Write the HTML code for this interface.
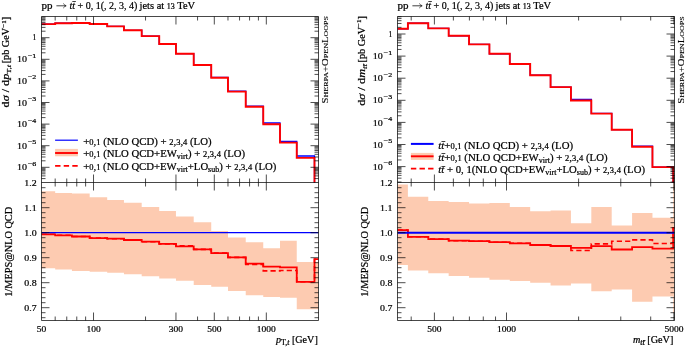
<!DOCTYPE html>
<html><head><meta charset="utf-8"><style>
html,body{margin:0;padding:0;background:#fff;width:685px;height:347px;overflow:hidden;font-family:"Liberation Serif",serif;}
svg{display:block;will-change:transform;}
</style></head><body>
<svg width="685" height="347" viewBox="0 0 685 347">
<rect width="685" height="347" fill="#fff"/>
<clipPath id="c139817756299040t"><rect x="41.5" y="16.5" width="277.0" height="166.0"/></clipPath>
<clipPath id="c139817756299040r"><rect x="41.5" y="182.5" width="277.0" height="138.0"/></clipPath>
<g clip-path="url(#c139817756299040r)">
<path d="M41.50,191.30 L41.50,191.30 L55.18,191.30 L55.18,193.00 L71.93,193.00 L71.93,193.50 L89.67,193.50 L89.67,197.30 L107.20,197.30 L107.20,200.00 L123.95,200.00 L123.95,202.80 L141.69,202.80 L141.69,206.90 L159.22,206.90 L159.22,211.00 L175.96,211.00 L175.96,216.50 L193.70,216.50 L193.70,222.20 L211.24,222.20 L211.24,231.10 L227.98,231.10 L227.98,237.50 L245.72,237.50 L245.72,242.30 L263.25,242.30 L263.25,248.30 L280.00,248.30 L280.00,240.80 L296.75,240.80 L296.75,262.00 L314.49,262.00 L314.49,262.00 L318.50,262.00 L318.50,309.20 L314.49,309.20 L314.49,309.20 L296.75,309.20 L296.75,297.80 L280.00,297.80 L280.00,296.90 L263.25,296.90 L263.25,295.20 L245.72,295.20 L245.72,291.00 L227.98,291.00 L227.98,286.80 L211.24,286.80 L211.24,285.10 L193.70,285.10 L193.70,280.80 L175.96,280.80 L175.96,278.60 L159.22,278.60 L159.22,276.30 L141.69,276.30 L141.69,274.20 L123.95,274.20 L123.95,272.80 L107.20,272.80 L107.20,271.70 L89.67,271.70 L89.67,270.90 L71.93,270.90 L71.93,269.40 L55.18,269.40 L55.18,268.30 L41.50,268.30 Z" fill="#fdcbb1" stroke="none"/>
<path d="M41.50,234.30 L41.50,234.30 L55.18,234.30 L55.18,235.30 L71.93,235.30 L71.93,236.50 L89.67,236.50 L89.67,238.10 L107.20,238.10 L107.20,238.70 L123.95,238.70 L123.95,240.00 L141.69,240.00 L141.69,241.70 L159.22,241.70 L159.22,243.90 L175.96,243.90 L175.96,245.70 L193.70,245.70 L193.70,249.40 L211.24,249.40 L211.24,253.10 L227.98,253.10 L227.98,257.40 L245.72,257.40 L245.72,264.40 L263.25,264.40 L263.25,270.90 L280.00,270.90 L280.00,270.50 L296.75,270.50 L296.75,281.80 L314.49,281.80 L314.49,259.20 L318.50,259.20" fill="none" stroke="#ff0000" stroke-width="1.6" stroke-dasharray="5.2,3.1"/>
<path d="M41.50,234.30 L41.50,234.30 L55.18,234.30 L55.18,235.30 L71.93,235.30 L71.93,236.50 L89.67,236.50 L89.67,238.10 L107.20,238.10 L107.20,238.70 L123.95,238.70 L123.95,240.00 L141.69,240.00 L141.69,241.70 L159.22,241.70 L159.22,243.90 L175.96,243.90 L175.96,246.30 L193.70,246.30 L193.70,249.40 L211.24,249.40 L211.24,253.10 L227.98,253.10 L227.98,257.40 L245.72,257.40 L245.72,263.70 L263.25,263.70 L263.25,266.60 L280.00,266.60 L280.00,267.40 L296.75,267.40 L296.75,281.80 L314.49,281.80 L314.49,259.20 L318.50,259.20" fill="none" stroke="#ff0000" stroke-width="1.8"/>
<line x1="41.5" y1="232.70" x2="318.5" y2="232.70" stroke="#0000ff" stroke-width="1.2"/>
</g>
<g clip-path="url(#c139817756299040t)">
<path d="M41.50,24.10 L41.50,24.10 L55.18,24.10 L55.18,23.20 L71.93,23.20 L71.93,23.00 L89.67,23.00 L89.67,24.00 L107.20,24.00 L107.20,26.40 L123.95,26.40 L123.95,30.30 L141.69,30.30 L141.69,36.10 L159.22,36.10 L159.22,44.00 L175.96,44.00 L175.96,53.70 L193.70,53.70 L193.70,65.00 L211.24,65.00 L211.24,77.40 L227.98,77.40 L227.98,91.20 L245.72,91.20 L245.72,106.20 L263.25,106.20 L263.25,123.00 L280.00,123.00 L280.00,141.40 L296.75,141.40 L296.75,156.00 L314.49,156.00 L314.49,186.00 L318.50,186.00 L318.50,184.50" fill="none" stroke="#0000ff" stroke-width="1.3"/>
<path d="M41.50,24.10 L41.50,24.10 L55.18,24.10 L55.18,23.20 L71.93,23.20 L71.93,23.00 L89.67,23.00 L89.67,24.00 L107.20,24.00 L107.20,26.40 L123.95,26.40 L123.95,30.30 L141.69,30.30 L141.69,36.10 L159.22,36.10 L159.22,44.00 L175.96,44.00 L175.96,53.70 L193.70,53.70 L193.70,65.00 L211.24,65.00 L211.24,77.80 L227.98,77.80 L227.98,91.60 L245.72,91.60 L245.72,106.70 L263.25,106.70 L263.25,124.30 L280.00,124.30 L280.00,142.60 L296.75,142.60 L296.75,157.90 L314.49,157.90 L314.49,186.00 L318.50,186.00 L318.50,184.50" fill="none" stroke="#ff0000" stroke-width="1.9"/>
</g>
<path d="M41.5,16.5 L318.5,16.5 L318.5,320.5 L41.5,320.5 Z M41.5,182.5 L318.5,182.5" fill="none" stroke="#000" stroke-width="0.72"/>
<line x1="93.52" y1="16.50" x2="93.52" y2="24.50" stroke="#000" stroke-width="0.7"/>
<line x1="93.52" y1="182.50" x2="93.52" y2="174.50" stroke="#000" stroke-width="0.7"/>
<line x1="93.52" y1="182.50" x2="93.52" y2="190.50" stroke="#000" stroke-width="0.7"/>
<line x1="93.52" y1="320.50" x2="93.52" y2="312.50" stroke="#000" stroke-width="0.7"/>
<line x1="175.96" y1="16.50" x2="175.96" y2="24.50" stroke="#000" stroke-width="0.7"/>
<line x1="175.96" y1="182.50" x2="175.96" y2="174.50" stroke="#000" stroke-width="0.7"/>
<line x1="175.96" y1="182.50" x2="175.96" y2="190.50" stroke="#000" stroke-width="0.7"/>
<line x1="175.96" y1="320.50" x2="175.96" y2="312.50" stroke="#000" stroke-width="0.7"/>
<line x1="214.30" y1="16.50" x2="214.30" y2="24.50" stroke="#000" stroke-width="0.7"/>
<line x1="214.30" y1="182.50" x2="214.30" y2="174.50" stroke="#000" stroke-width="0.7"/>
<line x1="214.30" y1="182.50" x2="214.30" y2="190.50" stroke="#000" stroke-width="0.7"/>
<line x1="214.30" y1="320.50" x2="214.30" y2="312.50" stroke="#000" stroke-width="0.7"/>
<line x1="266.32" y1="16.50" x2="266.32" y2="24.50" stroke="#000" stroke-width="0.7"/>
<line x1="266.32" y1="182.50" x2="266.32" y2="174.50" stroke="#000" stroke-width="0.7"/>
<line x1="266.32" y1="182.50" x2="266.32" y2="190.50" stroke="#000" stroke-width="0.7"/>
<line x1="266.32" y1="320.50" x2="266.32" y2="312.50" stroke="#000" stroke-width="0.7"/>
<line x1="55.18" y1="16.50" x2="55.18" y2="20.50" stroke="#000" stroke-width="0.7"/>
<line x1="55.18" y1="182.50" x2="55.18" y2="178.50" stroke="#000" stroke-width="0.7"/>
<line x1="55.18" y1="182.50" x2="55.18" y2="186.50" stroke="#000" stroke-width="0.7"/>
<line x1="55.18" y1="320.50" x2="55.18" y2="316.50" stroke="#000" stroke-width="0.7"/>
<line x1="66.75" y1="16.50" x2="66.75" y2="20.50" stroke="#000" stroke-width="0.7"/>
<line x1="66.75" y1="182.50" x2="66.75" y2="178.50" stroke="#000" stroke-width="0.7"/>
<line x1="66.75" y1="182.50" x2="66.75" y2="186.50" stroke="#000" stroke-width="0.7"/>
<line x1="66.75" y1="320.50" x2="66.75" y2="316.50" stroke="#000" stroke-width="0.7"/>
<line x1="76.77" y1="16.50" x2="76.77" y2="20.50" stroke="#000" stroke-width="0.7"/>
<line x1="76.77" y1="182.50" x2="76.77" y2="178.50" stroke="#000" stroke-width="0.7"/>
<line x1="76.77" y1="182.50" x2="76.77" y2="186.50" stroke="#000" stroke-width="0.7"/>
<line x1="76.77" y1="320.50" x2="76.77" y2="316.50" stroke="#000" stroke-width="0.7"/>
<line x1="85.61" y1="16.50" x2="85.61" y2="20.50" stroke="#000" stroke-width="0.7"/>
<line x1="85.61" y1="182.50" x2="85.61" y2="178.50" stroke="#000" stroke-width="0.7"/>
<line x1="85.61" y1="182.50" x2="85.61" y2="186.50" stroke="#000" stroke-width="0.7"/>
<line x1="85.61" y1="320.50" x2="85.61" y2="316.50" stroke="#000" stroke-width="0.7"/>
<line x1="145.54" y1="16.50" x2="145.54" y2="20.50" stroke="#000" stroke-width="0.7"/>
<line x1="145.54" y1="182.50" x2="145.54" y2="178.50" stroke="#000" stroke-width="0.7"/>
<line x1="145.54" y1="182.50" x2="145.54" y2="186.50" stroke="#000" stroke-width="0.7"/>
<line x1="145.54" y1="320.50" x2="145.54" y2="316.50" stroke="#000" stroke-width="0.7"/>
<line x1="197.55" y1="16.50" x2="197.55" y2="20.50" stroke="#000" stroke-width="0.7"/>
<line x1="197.55" y1="182.50" x2="197.55" y2="178.50" stroke="#000" stroke-width="0.7"/>
<line x1="197.55" y1="182.50" x2="197.55" y2="186.50" stroke="#000" stroke-width="0.7"/>
<line x1="197.55" y1="320.50" x2="197.55" y2="316.50" stroke="#000" stroke-width="0.7"/>
<line x1="227.98" y1="16.50" x2="227.98" y2="20.50" stroke="#000" stroke-width="0.7"/>
<line x1="227.98" y1="182.50" x2="227.98" y2="178.50" stroke="#000" stroke-width="0.7"/>
<line x1="227.98" y1="182.50" x2="227.98" y2="186.50" stroke="#000" stroke-width="0.7"/>
<line x1="227.98" y1="320.50" x2="227.98" y2="316.50" stroke="#000" stroke-width="0.7"/>
<line x1="239.55" y1="16.50" x2="239.55" y2="20.50" stroke="#000" stroke-width="0.7"/>
<line x1="239.55" y1="182.50" x2="239.55" y2="178.50" stroke="#000" stroke-width="0.7"/>
<line x1="239.55" y1="182.50" x2="239.55" y2="186.50" stroke="#000" stroke-width="0.7"/>
<line x1="239.55" y1="320.50" x2="239.55" y2="316.50" stroke="#000" stroke-width="0.7"/>
<line x1="249.57" y1="16.50" x2="249.57" y2="20.50" stroke="#000" stroke-width="0.7"/>
<line x1="249.57" y1="182.50" x2="249.57" y2="178.50" stroke="#000" stroke-width="0.7"/>
<line x1="249.57" y1="182.50" x2="249.57" y2="186.50" stroke="#000" stroke-width="0.7"/>
<line x1="249.57" y1="320.50" x2="249.57" y2="316.50" stroke="#000" stroke-width="0.7"/>
<line x1="258.41" y1="16.50" x2="258.41" y2="20.50" stroke="#000" stroke-width="0.7"/>
<line x1="258.41" y1="182.50" x2="258.41" y2="178.50" stroke="#000" stroke-width="0.7"/>
<line x1="258.41" y1="182.50" x2="258.41" y2="186.50" stroke="#000" stroke-width="0.7"/>
<line x1="258.41" y1="320.50" x2="258.41" y2="316.50" stroke="#000" stroke-width="0.7"/>
<line x1="41.50" y1="178.59" x2="45.50" y2="178.59" stroke="#000" stroke-width="0.7"/>
<line x1="318.50" y1="178.59" x2="314.50" y2="178.59" stroke="#000" stroke-width="0.7"/>
<line x1="41.50" y1="175.90" x2="45.50" y2="175.90" stroke="#000" stroke-width="0.7"/>
<line x1="318.50" y1="175.90" x2="314.50" y2="175.90" stroke="#000" stroke-width="0.7"/>
<line x1="41.50" y1="173.80" x2="45.50" y2="173.80" stroke="#000" stroke-width="0.7"/>
<line x1="318.50" y1="173.80" x2="314.50" y2="173.80" stroke="#000" stroke-width="0.7"/>
<line x1="41.50" y1="172.09" x2="45.50" y2="172.09" stroke="#000" stroke-width="0.7"/>
<line x1="318.50" y1="172.09" x2="314.50" y2="172.09" stroke="#000" stroke-width="0.7"/>
<line x1="41.50" y1="170.65" x2="45.50" y2="170.65" stroke="#000" stroke-width="0.7"/>
<line x1="318.50" y1="170.65" x2="314.50" y2="170.65" stroke="#000" stroke-width="0.7"/>
<line x1="41.50" y1="169.39" x2="45.50" y2="169.39" stroke="#000" stroke-width="0.7"/>
<line x1="318.50" y1="169.39" x2="314.50" y2="169.39" stroke="#000" stroke-width="0.7"/>
<line x1="41.50" y1="168.29" x2="45.50" y2="168.29" stroke="#000" stroke-width="0.7"/>
<line x1="318.50" y1="168.29" x2="314.50" y2="168.29" stroke="#000" stroke-width="0.7"/>
<line x1="41.50" y1="167.30" x2="49.50" y2="167.30" stroke="#000" stroke-width="0.7"/>
<line x1="318.50" y1="167.30" x2="310.50" y2="167.30" stroke="#000" stroke-width="0.7"/>
<line x1="41.50" y1="160.80" x2="45.50" y2="160.80" stroke="#000" stroke-width="0.7"/>
<line x1="318.50" y1="160.80" x2="314.50" y2="160.80" stroke="#000" stroke-width="0.7"/>
<line x1="41.50" y1="156.99" x2="45.50" y2="156.99" stroke="#000" stroke-width="0.7"/>
<line x1="318.50" y1="156.99" x2="314.50" y2="156.99" stroke="#000" stroke-width="0.7"/>
<line x1="41.50" y1="154.30" x2="45.50" y2="154.30" stroke="#000" stroke-width="0.7"/>
<line x1="318.50" y1="154.30" x2="314.50" y2="154.30" stroke="#000" stroke-width="0.7"/>
<line x1="41.50" y1="152.20" x2="45.50" y2="152.20" stroke="#000" stroke-width="0.7"/>
<line x1="318.50" y1="152.20" x2="314.50" y2="152.20" stroke="#000" stroke-width="0.7"/>
<line x1="41.50" y1="150.49" x2="45.50" y2="150.49" stroke="#000" stroke-width="0.7"/>
<line x1="318.50" y1="150.49" x2="314.50" y2="150.49" stroke="#000" stroke-width="0.7"/>
<line x1="41.50" y1="149.05" x2="45.50" y2="149.05" stroke="#000" stroke-width="0.7"/>
<line x1="318.50" y1="149.05" x2="314.50" y2="149.05" stroke="#000" stroke-width="0.7"/>
<line x1="41.50" y1="147.79" x2="45.50" y2="147.79" stroke="#000" stroke-width="0.7"/>
<line x1="318.50" y1="147.79" x2="314.50" y2="147.79" stroke="#000" stroke-width="0.7"/>
<line x1="41.50" y1="146.69" x2="45.50" y2="146.69" stroke="#000" stroke-width="0.7"/>
<line x1="318.50" y1="146.69" x2="314.50" y2="146.69" stroke="#000" stroke-width="0.7"/>
<line x1="41.50" y1="145.70" x2="49.50" y2="145.70" stroke="#000" stroke-width="0.7"/>
<line x1="318.50" y1="145.70" x2="310.50" y2="145.70" stroke="#000" stroke-width="0.7"/>
<line x1="41.50" y1="139.20" x2="45.50" y2="139.20" stroke="#000" stroke-width="0.7"/>
<line x1="318.50" y1="139.20" x2="314.50" y2="139.20" stroke="#000" stroke-width="0.7"/>
<line x1="41.50" y1="135.39" x2="45.50" y2="135.39" stroke="#000" stroke-width="0.7"/>
<line x1="318.50" y1="135.39" x2="314.50" y2="135.39" stroke="#000" stroke-width="0.7"/>
<line x1="41.50" y1="132.70" x2="45.50" y2="132.70" stroke="#000" stroke-width="0.7"/>
<line x1="318.50" y1="132.70" x2="314.50" y2="132.70" stroke="#000" stroke-width="0.7"/>
<line x1="41.50" y1="130.60" x2="45.50" y2="130.60" stroke="#000" stroke-width="0.7"/>
<line x1="318.50" y1="130.60" x2="314.50" y2="130.60" stroke="#000" stroke-width="0.7"/>
<line x1="41.50" y1="128.89" x2="45.50" y2="128.89" stroke="#000" stroke-width="0.7"/>
<line x1="318.50" y1="128.89" x2="314.50" y2="128.89" stroke="#000" stroke-width="0.7"/>
<line x1="41.50" y1="127.45" x2="45.50" y2="127.45" stroke="#000" stroke-width="0.7"/>
<line x1="318.50" y1="127.45" x2="314.50" y2="127.45" stroke="#000" stroke-width="0.7"/>
<line x1="41.50" y1="126.19" x2="45.50" y2="126.19" stroke="#000" stroke-width="0.7"/>
<line x1="318.50" y1="126.19" x2="314.50" y2="126.19" stroke="#000" stroke-width="0.7"/>
<line x1="41.50" y1="125.09" x2="45.50" y2="125.09" stroke="#000" stroke-width="0.7"/>
<line x1="318.50" y1="125.09" x2="314.50" y2="125.09" stroke="#000" stroke-width="0.7"/>
<line x1="41.50" y1="124.10" x2="49.50" y2="124.10" stroke="#000" stroke-width="0.7"/>
<line x1="318.50" y1="124.10" x2="310.50" y2="124.10" stroke="#000" stroke-width="0.7"/>
<line x1="41.50" y1="117.60" x2="45.50" y2="117.60" stroke="#000" stroke-width="0.7"/>
<line x1="318.50" y1="117.60" x2="314.50" y2="117.60" stroke="#000" stroke-width="0.7"/>
<line x1="41.50" y1="113.79" x2="45.50" y2="113.79" stroke="#000" stroke-width="0.7"/>
<line x1="318.50" y1="113.79" x2="314.50" y2="113.79" stroke="#000" stroke-width="0.7"/>
<line x1="41.50" y1="111.10" x2="45.50" y2="111.10" stroke="#000" stroke-width="0.7"/>
<line x1="318.50" y1="111.10" x2="314.50" y2="111.10" stroke="#000" stroke-width="0.7"/>
<line x1="41.50" y1="109.00" x2="45.50" y2="109.00" stroke="#000" stroke-width="0.7"/>
<line x1="318.50" y1="109.00" x2="314.50" y2="109.00" stroke="#000" stroke-width="0.7"/>
<line x1="41.50" y1="107.29" x2="45.50" y2="107.29" stroke="#000" stroke-width="0.7"/>
<line x1="318.50" y1="107.29" x2="314.50" y2="107.29" stroke="#000" stroke-width="0.7"/>
<line x1="41.50" y1="105.85" x2="45.50" y2="105.85" stroke="#000" stroke-width="0.7"/>
<line x1="318.50" y1="105.85" x2="314.50" y2="105.85" stroke="#000" stroke-width="0.7"/>
<line x1="41.50" y1="104.59" x2="45.50" y2="104.59" stroke="#000" stroke-width="0.7"/>
<line x1="318.50" y1="104.59" x2="314.50" y2="104.59" stroke="#000" stroke-width="0.7"/>
<line x1="41.50" y1="103.49" x2="45.50" y2="103.49" stroke="#000" stroke-width="0.7"/>
<line x1="318.50" y1="103.49" x2="314.50" y2="103.49" stroke="#000" stroke-width="0.7"/>
<line x1="41.50" y1="102.50" x2="49.50" y2="102.50" stroke="#000" stroke-width="0.7"/>
<line x1="318.50" y1="102.50" x2="310.50" y2="102.50" stroke="#000" stroke-width="0.7"/>
<line x1="41.50" y1="96.00" x2="45.50" y2="96.00" stroke="#000" stroke-width="0.7"/>
<line x1="318.50" y1="96.00" x2="314.50" y2="96.00" stroke="#000" stroke-width="0.7"/>
<line x1="41.50" y1="92.19" x2="45.50" y2="92.19" stroke="#000" stroke-width="0.7"/>
<line x1="318.50" y1="92.19" x2="314.50" y2="92.19" stroke="#000" stroke-width="0.7"/>
<line x1="41.50" y1="89.50" x2="45.50" y2="89.50" stroke="#000" stroke-width="0.7"/>
<line x1="318.50" y1="89.50" x2="314.50" y2="89.50" stroke="#000" stroke-width="0.7"/>
<line x1="41.50" y1="87.40" x2="45.50" y2="87.40" stroke="#000" stroke-width="0.7"/>
<line x1="318.50" y1="87.40" x2="314.50" y2="87.40" stroke="#000" stroke-width="0.7"/>
<line x1="41.50" y1="85.69" x2="45.50" y2="85.69" stroke="#000" stroke-width="0.7"/>
<line x1="318.50" y1="85.69" x2="314.50" y2="85.69" stroke="#000" stroke-width="0.7"/>
<line x1="41.50" y1="84.25" x2="45.50" y2="84.25" stroke="#000" stroke-width="0.7"/>
<line x1="318.50" y1="84.25" x2="314.50" y2="84.25" stroke="#000" stroke-width="0.7"/>
<line x1="41.50" y1="82.99" x2="45.50" y2="82.99" stroke="#000" stroke-width="0.7"/>
<line x1="318.50" y1="82.99" x2="314.50" y2="82.99" stroke="#000" stroke-width="0.7"/>
<line x1="41.50" y1="81.89" x2="45.50" y2="81.89" stroke="#000" stroke-width="0.7"/>
<line x1="318.50" y1="81.89" x2="314.50" y2="81.89" stroke="#000" stroke-width="0.7"/>
<line x1="41.50" y1="80.90" x2="49.50" y2="80.90" stroke="#000" stroke-width="0.7"/>
<line x1="318.50" y1="80.90" x2="310.50" y2="80.90" stroke="#000" stroke-width="0.7"/>
<line x1="41.50" y1="74.40" x2="45.50" y2="74.40" stroke="#000" stroke-width="0.7"/>
<line x1="318.50" y1="74.40" x2="314.50" y2="74.40" stroke="#000" stroke-width="0.7"/>
<line x1="41.50" y1="70.59" x2="45.50" y2="70.59" stroke="#000" stroke-width="0.7"/>
<line x1="318.50" y1="70.59" x2="314.50" y2="70.59" stroke="#000" stroke-width="0.7"/>
<line x1="41.50" y1="67.90" x2="45.50" y2="67.90" stroke="#000" stroke-width="0.7"/>
<line x1="318.50" y1="67.90" x2="314.50" y2="67.90" stroke="#000" stroke-width="0.7"/>
<line x1="41.50" y1="65.80" x2="45.50" y2="65.80" stroke="#000" stroke-width="0.7"/>
<line x1="318.50" y1="65.80" x2="314.50" y2="65.80" stroke="#000" stroke-width="0.7"/>
<line x1="41.50" y1="64.09" x2="45.50" y2="64.09" stroke="#000" stroke-width="0.7"/>
<line x1="318.50" y1="64.09" x2="314.50" y2="64.09" stroke="#000" stroke-width="0.7"/>
<line x1="41.50" y1="62.65" x2="45.50" y2="62.65" stroke="#000" stroke-width="0.7"/>
<line x1="318.50" y1="62.65" x2="314.50" y2="62.65" stroke="#000" stroke-width="0.7"/>
<line x1="41.50" y1="61.39" x2="45.50" y2="61.39" stroke="#000" stroke-width="0.7"/>
<line x1="318.50" y1="61.39" x2="314.50" y2="61.39" stroke="#000" stroke-width="0.7"/>
<line x1="41.50" y1="60.29" x2="45.50" y2="60.29" stroke="#000" stroke-width="0.7"/>
<line x1="318.50" y1="60.29" x2="314.50" y2="60.29" stroke="#000" stroke-width="0.7"/>
<line x1="41.50" y1="59.30" x2="49.50" y2="59.30" stroke="#000" stroke-width="0.7"/>
<line x1="318.50" y1="59.30" x2="310.50" y2="59.30" stroke="#000" stroke-width="0.7"/>
<line x1="41.50" y1="52.80" x2="45.50" y2="52.80" stroke="#000" stroke-width="0.7"/>
<line x1="318.50" y1="52.80" x2="314.50" y2="52.80" stroke="#000" stroke-width="0.7"/>
<line x1="41.50" y1="48.99" x2="45.50" y2="48.99" stroke="#000" stroke-width="0.7"/>
<line x1="318.50" y1="48.99" x2="314.50" y2="48.99" stroke="#000" stroke-width="0.7"/>
<line x1="41.50" y1="46.30" x2="45.50" y2="46.30" stroke="#000" stroke-width="0.7"/>
<line x1="318.50" y1="46.30" x2="314.50" y2="46.30" stroke="#000" stroke-width="0.7"/>
<line x1="41.50" y1="44.20" x2="45.50" y2="44.20" stroke="#000" stroke-width="0.7"/>
<line x1="318.50" y1="44.20" x2="314.50" y2="44.20" stroke="#000" stroke-width="0.7"/>
<line x1="41.50" y1="42.49" x2="45.50" y2="42.49" stroke="#000" stroke-width="0.7"/>
<line x1="318.50" y1="42.49" x2="314.50" y2="42.49" stroke="#000" stroke-width="0.7"/>
<line x1="41.50" y1="41.05" x2="45.50" y2="41.05" stroke="#000" stroke-width="0.7"/>
<line x1="318.50" y1="41.05" x2="314.50" y2="41.05" stroke="#000" stroke-width="0.7"/>
<line x1="41.50" y1="39.79" x2="45.50" y2="39.79" stroke="#000" stroke-width="0.7"/>
<line x1="318.50" y1="39.79" x2="314.50" y2="39.79" stroke="#000" stroke-width="0.7"/>
<line x1="41.50" y1="38.69" x2="45.50" y2="38.69" stroke="#000" stroke-width="0.7"/>
<line x1="318.50" y1="38.69" x2="314.50" y2="38.69" stroke="#000" stroke-width="0.7"/>
<line x1="41.50" y1="37.70" x2="49.50" y2="37.70" stroke="#000" stroke-width="0.7"/>
<line x1="318.50" y1="37.70" x2="310.50" y2="37.70" stroke="#000" stroke-width="0.7"/>
<line x1="41.50" y1="31.20" x2="45.50" y2="31.20" stroke="#000" stroke-width="0.7"/>
<line x1="318.50" y1="31.20" x2="314.50" y2="31.20" stroke="#000" stroke-width="0.7"/>
<line x1="41.50" y1="27.39" x2="45.50" y2="27.39" stroke="#000" stroke-width="0.7"/>
<line x1="318.50" y1="27.39" x2="314.50" y2="27.39" stroke="#000" stroke-width="0.7"/>
<line x1="41.50" y1="24.70" x2="45.50" y2="24.70" stroke="#000" stroke-width="0.7"/>
<line x1="318.50" y1="24.70" x2="314.50" y2="24.70" stroke="#000" stroke-width="0.7"/>
<line x1="41.50" y1="22.60" x2="45.50" y2="22.60" stroke="#000" stroke-width="0.7"/>
<line x1="318.50" y1="22.60" x2="314.50" y2="22.60" stroke="#000" stroke-width="0.7"/>
<line x1="41.50" y1="20.89" x2="45.50" y2="20.89" stroke="#000" stroke-width="0.7"/>
<line x1="318.50" y1="20.89" x2="314.50" y2="20.89" stroke="#000" stroke-width="0.7"/>
<line x1="41.50" y1="19.45" x2="45.50" y2="19.45" stroke="#000" stroke-width="0.7"/>
<line x1="318.50" y1="19.45" x2="314.50" y2="19.45" stroke="#000" stroke-width="0.7"/>
<line x1="41.50" y1="18.19" x2="45.50" y2="18.19" stroke="#000" stroke-width="0.7"/>
<line x1="318.50" y1="18.19" x2="314.50" y2="18.19" stroke="#000" stroke-width="0.7"/>
<line x1="41.50" y1="17.09" x2="45.50" y2="17.09" stroke="#000" stroke-width="0.7"/>
<line x1="318.50" y1="17.09" x2="314.50" y2="17.09" stroke="#000" stroke-width="0.7"/>
<line x1="41.50" y1="317.70" x2="45.50" y2="317.70" stroke="#000" stroke-width="0.7"/>
<line x1="318.50" y1="317.70" x2="314.50" y2="317.70" stroke="#000" stroke-width="0.7"/>
<line x1="41.50" y1="312.70" x2="45.50" y2="312.70" stroke="#000" stroke-width="0.7"/>
<line x1="318.50" y1="312.70" x2="314.50" y2="312.70" stroke="#000" stroke-width="0.7"/>
<line x1="41.50" y1="307.70" x2="49.50" y2="307.70" stroke="#000" stroke-width="0.7"/>
<line x1="318.50" y1="307.70" x2="310.50" y2="307.70" stroke="#000" stroke-width="0.7"/>
<line x1="41.50" y1="302.70" x2="45.50" y2="302.70" stroke="#000" stroke-width="0.7"/>
<line x1="318.50" y1="302.70" x2="314.50" y2="302.70" stroke="#000" stroke-width="0.7"/>
<line x1="41.50" y1="297.70" x2="45.50" y2="297.70" stroke="#000" stroke-width="0.7"/>
<line x1="318.50" y1="297.70" x2="314.50" y2="297.70" stroke="#000" stroke-width="0.7"/>
<line x1="41.50" y1="292.70" x2="45.50" y2="292.70" stroke="#000" stroke-width="0.7"/>
<line x1="318.50" y1="292.70" x2="314.50" y2="292.70" stroke="#000" stroke-width="0.7"/>
<line x1="41.50" y1="287.70" x2="45.50" y2="287.70" stroke="#000" stroke-width="0.7"/>
<line x1="318.50" y1="287.70" x2="314.50" y2="287.70" stroke="#000" stroke-width="0.7"/>
<line x1="41.50" y1="282.70" x2="49.50" y2="282.70" stroke="#000" stroke-width="0.7"/>
<line x1="318.50" y1="282.70" x2="310.50" y2="282.70" stroke="#000" stroke-width="0.7"/>
<line x1="41.50" y1="277.70" x2="45.50" y2="277.70" stroke="#000" stroke-width="0.7"/>
<line x1="318.50" y1="277.70" x2="314.50" y2="277.70" stroke="#000" stroke-width="0.7"/>
<line x1="41.50" y1="272.70" x2="45.50" y2="272.70" stroke="#000" stroke-width="0.7"/>
<line x1="318.50" y1="272.70" x2="314.50" y2="272.70" stroke="#000" stroke-width="0.7"/>
<line x1="41.50" y1="267.70" x2="45.50" y2="267.70" stroke="#000" stroke-width="0.7"/>
<line x1="318.50" y1="267.70" x2="314.50" y2="267.70" stroke="#000" stroke-width="0.7"/>
<line x1="41.50" y1="262.70" x2="45.50" y2="262.70" stroke="#000" stroke-width="0.7"/>
<line x1="318.50" y1="262.70" x2="314.50" y2="262.70" stroke="#000" stroke-width="0.7"/>
<line x1="41.50" y1="257.70" x2="49.50" y2="257.70" stroke="#000" stroke-width="0.7"/>
<line x1="318.50" y1="257.70" x2="310.50" y2="257.70" stroke="#000" stroke-width="0.7"/>
<line x1="41.50" y1="252.70" x2="45.50" y2="252.70" stroke="#000" stroke-width="0.7"/>
<line x1="318.50" y1="252.70" x2="314.50" y2="252.70" stroke="#000" stroke-width="0.7"/>
<line x1="41.50" y1="247.70" x2="45.50" y2="247.70" stroke="#000" stroke-width="0.7"/>
<line x1="318.50" y1="247.70" x2="314.50" y2="247.70" stroke="#000" stroke-width="0.7"/>
<line x1="41.50" y1="242.70" x2="45.50" y2="242.70" stroke="#000" stroke-width="0.7"/>
<line x1="318.50" y1="242.70" x2="314.50" y2="242.70" stroke="#000" stroke-width="0.7"/>
<line x1="41.50" y1="237.70" x2="45.50" y2="237.70" stroke="#000" stroke-width="0.7"/>
<line x1="318.50" y1="237.70" x2="314.50" y2="237.70" stroke="#000" stroke-width="0.7"/>
<line x1="41.50" y1="232.70" x2="49.50" y2="232.70" stroke="#000" stroke-width="0.7"/>
<line x1="318.50" y1="232.70" x2="310.50" y2="232.70" stroke="#000" stroke-width="0.7"/>
<line x1="41.50" y1="227.70" x2="45.50" y2="227.70" stroke="#000" stroke-width="0.7"/>
<line x1="318.50" y1="227.70" x2="314.50" y2="227.70" stroke="#000" stroke-width="0.7"/>
<line x1="41.50" y1="222.70" x2="45.50" y2="222.70" stroke="#000" stroke-width="0.7"/>
<line x1="318.50" y1="222.70" x2="314.50" y2="222.70" stroke="#000" stroke-width="0.7"/>
<line x1="41.50" y1="217.70" x2="45.50" y2="217.70" stroke="#000" stroke-width="0.7"/>
<line x1="318.50" y1="217.70" x2="314.50" y2="217.70" stroke="#000" stroke-width="0.7"/>
<line x1="41.50" y1="212.70" x2="45.50" y2="212.70" stroke="#000" stroke-width="0.7"/>
<line x1="318.50" y1="212.70" x2="314.50" y2="212.70" stroke="#000" stroke-width="0.7"/>
<line x1="41.50" y1="207.70" x2="49.50" y2="207.70" stroke="#000" stroke-width="0.7"/>
<line x1="318.50" y1="207.70" x2="310.50" y2="207.70" stroke="#000" stroke-width="0.7"/>
<line x1="41.50" y1="202.70" x2="45.50" y2="202.70" stroke="#000" stroke-width="0.7"/>
<line x1="318.50" y1="202.70" x2="314.50" y2="202.70" stroke="#000" stroke-width="0.7"/>
<line x1="41.50" y1="197.70" x2="45.50" y2="197.70" stroke="#000" stroke-width="0.7"/>
<line x1="318.50" y1="197.70" x2="314.50" y2="197.70" stroke="#000" stroke-width="0.7"/>
<line x1="41.50" y1="192.70" x2="45.50" y2="192.70" stroke="#000" stroke-width="0.7"/>
<line x1="318.50" y1="192.70" x2="314.50" y2="192.70" stroke="#000" stroke-width="0.7"/>
<line x1="41.50" y1="187.70" x2="45.50" y2="187.70" stroke="#000" stroke-width="0.7"/>
<line x1="318.50" y1="187.70" x2="314.50" y2="187.70" stroke="#000" stroke-width="0.7"/>
<clipPath id="c139817756298752t"><rect x="397.5" y="16.5" width="277.0" height="166.0"/></clipPath>
<clipPath id="c139817756298752r"><rect x="397.5" y="182.5" width="277.0" height="138.0"/></clipPath>
<g clip-path="url(#c139817756298752r)">
<path d="M397.50,184.50 L397.50,184.50 L407.90,184.50 L407.90,196.80 L428.28,196.80 L428.28,201.10 L448.66,201.10 L448.66,202.10 L469.04,202.10 L469.04,203.60 L489.42,203.60 L489.42,203.00 L509.80,203.00 L509.80,207.00 L530.18,207.00 L530.18,211.20 L550.56,211.20 L550.56,210.60 L570.94,210.60 L570.94,223.30 L591.32,223.30 L591.32,207.00 L611.70,207.00 L611.70,225.40 L632.08,225.40 L632.08,213.10 L652.46,213.10 L652.46,217.80 L673.20,217.80 L673.20,181.00 L674.50,181.00 L674.50,313.00 L673.20,313.00 L673.20,296.50 L652.46,296.50 L652.46,301.80 L632.08,301.80 L632.08,289.50 L611.70,289.50 L611.70,291.20 L591.32,291.20 L591.32,283.40 L570.94,283.40 L570.94,285.50 L550.56,285.50 L550.56,282.70 L530.18,282.70 L530.18,281.00 L509.80,281.00 L509.80,279.80 L489.42,279.80 L489.42,277.70 L469.04,277.70 L469.04,276.00 L448.66,276.00 L448.66,273.20 L428.28,273.20 L428.28,270.60 L407.90,270.60 L407.90,265.00 L397.50,265.00 Z" fill="#fdcbb1" stroke="none"/>
<path d="M397.50,230.10 L397.50,230.10 L407.90,230.10 L407.90,236.80 L428.28,236.80 L428.28,239.10 L448.66,239.10 L448.66,240.70 L469.04,240.70 L469.04,241.20 L489.42,241.20 L489.42,242.20 L509.80,242.20 L509.80,243.30 L530.18,243.30 L530.18,244.70 L550.56,244.70 L550.56,246.00 L570.94,246.00 L570.94,250.50 L591.32,250.50 L591.32,243.90 L611.70,243.90 L611.70,241.20 L632.08,241.20 L632.08,239.90 L652.46,239.90 L652.46,243.50 L673.20,243.50 L673.20,228.00 L674.50,228.00" fill="none" stroke="#ff0000" stroke-width="1.6" stroke-dasharray="5.2,3.1"/>
<path d="M397.50,230.10 L397.50,230.10 L407.90,230.10 L407.90,236.80 L428.28,236.80 L428.28,239.10 L448.66,239.10 L448.66,240.70 L469.04,240.70 L469.04,241.20 L489.42,241.20 L489.42,242.20 L509.80,242.20 L509.80,243.30 L530.18,243.30 L530.18,245.00 L550.56,245.00 L550.56,246.00 L570.94,246.00 L570.94,247.80 L591.32,247.80 L591.32,246.10 L611.70,246.10 L611.70,249.50 L632.08,249.50 L632.08,247.10 L652.46,247.10 L652.46,248.70 L673.20,248.70 L673.20,228.00 L674.50,228.00" fill="none" stroke="#ff0000" stroke-width="1.8"/>
<line x1="397.5" y1="232.70" x2="674.5" y2="232.70" stroke="#0000ff" stroke-width="2.0"/>
</g>
<g clip-path="url(#c139817756298752t)">
<path d="M397.50,28.80 L397.50,28.80 L407.90,28.80 L407.90,23.20 L428.28,23.20 L428.28,28.40 L448.66,28.40 L448.66,35.80 L469.04,35.80 L469.04,44.40 L489.42,44.40 L489.42,53.80 L509.80,53.80 L509.80,64.00 L530.18,64.00 L530.18,75.20 L550.56,75.20 L550.56,87.10 L570.94,87.10 L570.94,99.30 L591.32,99.30 L591.32,113.30 L611.70,113.30 L611.70,129.60 L632.08,129.60 L632.08,146.20 L652.46,146.20 L652.46,167.10 L673.20,167.10 L673.20,186.00 L674.50,186.00 L674.50,184.50" fill="none" stroke="#0000ff" stroke-width="1.3"/>
<path d="M397.50,28.80 L397.50,28.80 L407.90,28.80 L407.90,23.20 L428.28,23.20 L428.28,28.40 L448.66,28.40 L448.66,35.80 L469.04,35.80 L469.04,44.40 L489.42,44.40 L489.42,53.80 L509.80,53.80 L509.80,64.00 L530.18,64.00 L530.18,75.20 L550.56,75.20 L550.56,87.10 L570.94,87.10 L570.94,100.50 L591.32,100.50 L591.32,113.60 L611.70,113.60 L611.70,129.80 L632.08,129.80 L632.08,146.80 L652.46,146.80 L652.46,167.10 L673.20,167.10 L673.20,186.00 L674.50,186.00 L674.50,184.50" fill="none" stroke="#ff0000" stroke-width="1.9"/>
</g>
<path d="M397.5,16.5 L674.5,16.5 L674.5,320.5 L397.5,320.5 Z M397.5,182.5 L674.5,182.5" fill="none" stroke="#000" stroke-width="0.72"/>
<line x1="434.40" y1="16.50" x2="434.40" y2="24.50" stroke="#000" stroke-width="0.7"/>
<line x1="434.40" y1="182.50" x2="434.40" y2="174.50" stroke="#000" stroke-width="0.7"/>
<line x1="434.40" y1="182.50" x2="434.40" y2="190.50" stroke="#000" stroke-width="0.7"/>
<line x1="434.40" y1="320.50" x2="434.40" y2="312.50" stroke="#000" stroke-width="0.7"/>
<line x1="506.50" y1="16.50" x2="506.50" y2="24.50" stroke="#000" stroke-width="0.7"/>
<line x1="506.50" y1="182.50" x2="506.50" y2="174.50" stroke="#000" stroke-width="0.7"/>
<line x1="506.50" y1="182.50" x2="506.50" y2="190.50" stroke="#000" stroke-width="0.7"/>
<line x1="506.50" y1="320.50" x2="506.50" y2="312.50" stroke="#000" stroke-width="0.7"/>
<line x1="673.90" y1="16.50" x2="673.90" y2="24.50" stroke="#000" stroke-width="0.7"/>
<line x1="673.90" y1="182.50" x2="673.90" y2="174.50" stroke="#000" stroke-width="0.7"/>
<line x1="673.90" y1="182.50" x2="673.90" y2="190.50" stroke="#000" stroke-width="0.7"/>
<line x1="673.90" y1="320.50" x2="673.90" y2="312.50" stroke="#000" stroke-width="0.7"/>
<line x1="411.19" y1="16.50" x2="411.19" y2="20.50" stroke="#000" stroke-width="0.7"/>
<line x1="411.19" y1="182.50" x2="411.19" y2="178.50" stroke="#000" stroke-width="0.7"/>
<line x1="411.19" y1="182.50" x2="411.19" y2="186.50" stroke="#000" stroke-width="0.7"/>
<line x1="411.19" y1="320.50" x2="411.19" y2="316.50" stroke="#000" stroke-width="0.7"/>
<line x1="453.37" y1="16.50" x2="453.37" y2="20.50" stroke="#000" stroke-width="0.7"/>
<line x1="453.37" y1="182.50" x2="453.37" y2="178.50" stroke="#000" stroke-width="0.7"/>
<line x1="453.37" y1="182.50" x2="453.37" y2="186.50" stroke="#000" stroke-width="0.7"/>
<line x1="453.37" y1="320.50" x2="453.37" y2="316.50" stroke="#000" stroke-width="0.7"/>
<line x1="469.40" y1="16.50" x2="469.40" y2="20.50" stroke="#000" stroke-width="0.7"/>
<line x1="469.40" y1="182.50" x2="469.40" y2="178.50" stroke="#000" stroke-width="0.7"/>
<line x1="469.40" y1="182.50" x2="469.40" y2="186.50" stroke="#000" stroke-width="0.7"/>
<line x1="469.40" y1="320.50" x2="469.40" y2="316.50" stroke="#000" stroke-width="0.7"/>
<line x1="483.29" y1="16.50" x2="483.29" y2="20.50" stroke="#000" stroke-width="0.7"/>
<line x1="483.29" y1="182.50" x2="483.29" y2="178.50" stroke="#000" stroke-width="0.7"/>
<line x1="483.29" y1="182.50" x2="483.29" y2="186.50" stroke="#000" stroke-width="0.7"/>
<line x1="483.29" y1="320.50" x2="483.29" y2="316.50" stroke="#000" stroke-width="0.7"/>
<line x1="495.54" y1="16.50" x2="495.54" y2="20.50" stroke="#000" stroke-width="0.7"/>
<line x1="495.54" y1="182.50" x2="495.54" y2="178.50" stroke="#000" stroke-width="0.7"/>
<line x1="495.54" y1="182.50" x2="495.54" y2="186.50" stroke="#000" stroke-width="0.7"/>
<line x1="495.54" y1="320.50" x2="495.54" y2="316.50" stroke="#000" stroke-width="0.7"/>
<line x1="578.60" y1="16.50" x2="578.60" y2="20.50" stroke="#000" stroke-width="0.7"/>
<line x1="578.60" y1="182.50" x2="578.60" y2="178.50" stroke="#000" stroke-width="0.7"/>
<line x1="578.60" y1="182.50" x2="578.60" y2="186.50" stroke="#000" stroke-width="0.7"/>
<line x1="578.60" y1="320.50" x2="578.60" y2="316.50" stroke="#000" stroke-width="0.7"/>
<line x1="620.77" y1="16.50" x2="620.77" y2="20.50" stroke="#000" stroke-width="0.7"/>
<line x1="620.77" y1="182.50" x2="620.77" y2="178.50" stroke="#000" stroke-width="0.7"/>
<line x1="620.77" y1="182.50" x2="620.77" y2="186.50" stroke="#000" stroke-width="0.7"/>
<line x1="620.77" y1="320.50" x2="620.77" y2="316.50" stroke="#000" stroke-width="0.7"/>
<line x1="650.69" y1="16.50" x2="650.69" y2="20.50" stroke="#000" stroke-width="0.7"/>
<line x1="650.69" y1="182.50" x2="650.69" y2="178.50" stroke="#000" stroke-width="0.7"/>
<line x1="650.69" y1="182.50" x2="650.69" y2="186.50" stroke="#000" stroke-width="0.7"/>
<line x1="650.69" y1="320.50" x2="650.69" y2="316.50" stroke="#000" stroke-width="0.7"/>
<line x1="397.50" y1="182.05" x2="401.50" y2="182.05" stroke="#000" stroke-width="0.7"/>
<line x1="674.50" y1="182.05" x2="670.50" y2="182.05" stroke="#000" stroke-width="0.7"/>
<line x1="397.50" y1="178.16" x2="401.50" y2="178.16" stroke="#000" stroke-width="0.7"/>
<line x1="674.50" y1="178.16" x2="670.50" y2="178.16" stroke="#000" stroke-width="0.7"/>
<line x1="397.50" y1="175.39" x2="401.50" y2="175.39" stroke="#000" stroke-width="0.7"/>
<line x1="674.50" y1="175.39" x2="670.50" y2="175.39" stroke="#000" stroke-width="0.7"/>
<line x1="397.50" y1="173.25" x2="401.50" y2="173.25" stroke="#000" stroke-width="0.7"/>
<line x1="674.50" y1="173.25" x2="670.50" y2="173.25" stroke="#000" stroke-width="0.7"/>
<line x1="397.50" y1="171.50" x2="401.50" y2="171.50" stroke="#000" stroke-width="0.7"/>
<line x1="674.50" y1="171.50" x2="670.50" y2="171.50" stroke="#000" stroke-width="0.7"/>
<line x1="397.50" y1="170.02" x2="401.50" y2="170.02" stroke="#000" stroke-width="0.7"/>
<line x1="674.50" y1="170.02" x2="670.50" y2="170.02" stroke="#000" stroke-width="0.7"/>
<line x1="397.50" y1="168.74" x2="401.50" y2="168.74" stroke="#000" stroke-width="0.7"/>
<line x1="674.50" y1="168.74" x2="670.50" y2="168.74" stroke="#000" stroke-width="0.7"/>
<line x1="397.50" y1="167.61" x2="401.50" y2="167.61" stroke="#000" stroke-width="0.7"/>
<line x1="674.50" y1="167.61" x2="670.50" y2="167.61" stroke="#000" stroke-width="0.7"/>
<line x1="397.50" y1="166.60" x2="405.50" y2="166.60" stroke="#000" stroke-width="0.7"/>
<line x1="674.50" y1="166.60" x2="666.50" y2="166.60" stroke="#000" stroke-width="0.7"/>
<line x1="397.50" y1="159.95" x2="401.50" y2="159.95" stroke="#000" stroke-width="0.7"/>
<line x1="674.50" y1="159.95" x2="670.50" y2="159.95" stroke="#000" stroke-width="0.7"/>
<line x1="397.50" y1="156.06" x2="401.50" y2="156.06" stroke="#000" stroke-width="0.7"/>
<line x1="674.50" y1="156.06" x2="670.50" y2="156.06" stroke="#000" stroke-width="0.7"/>
<line x1="397.50" y1="153.29" x2="401.50" y2="153.29" stroke="#000" stroke-width="0.7"/>
<line x1="674.50" y1="153.29" x2="670.50" y2="153.29" stroke="#000" stroke-width="0.7"/>
<line x1="397.50" y1="151.15" x2="401.50" y2="151.15" stroke="#000" stroke-width="0.7"/>
<line x1="674.50" y1="151.15" x2="670.50" y2="151.15" stroke="#000" stroke-width="0.7"/>
<line x1="397.50" y1="149.40" x2="401.50" y2="149.40" stroke="#000" stroke-width="0.7"/>
<line x1="674.50" y1="149.40" x2="670.50" y2="149.40" stroke="#000" stroke-width="0.7"/>
<line x1="397.50" y1="147.92" x2="401.50" y2="147.92" stroke="#000" stroke-width="0.7"/>
<line x1="674.50" y1="147.92" x2="670.50" y2="147.92" stroke="#000" stroke-width="0.7"/>
<line x1="397.50" y1="146.64" x2="401.50" y2="146.64" stroke="#000" stroke-width="0.7"/>
<line x1="674.50" y1="146.64" x2="670.50" y2="146.64" stroke="#000" stroke-width="0.7"/>
<line x1="397.50" y1="145.51" x2="401.50" y2="145.51" stroke="#000" stroke-width="0.7"/>
<line x1="674.50" y1="145.51" x2="670.50" y2="145.51" stroke="#000" stroke-width="0.7"/>
<line x1="397.50" y1="144.50" x2="405.50" y2="144.50" stroke="#000" stroke-width="0.7"/>
<line x1="674.50" y1="144.50" x2="666.50" y2="144.50" stroke="#000" stroke-width="0.7"/>
<line x1="397.50" y1="137.85" x2="401.50" y2="137.85" stroke="#000" stroke-width="0.7"/>
<line x1="674.50" y1="137.85" x2="670.50" y2="137.85" stroke="#000" stroke-width="0.7"/>
<line x1="397.50" y1="133.96" x2="401.50" y2="133.96" stroke="#000" stroke-width="0.7"/>
<line x1="674.50" y1="133.96" x2="670.50" y2="133.96" stroke="#000" stroke-width="0.7"/>
<line x1="397.50" y1="131.19" x2="401.50" y2="131.19" stroke="#000" stroke-width="0.7"/>
<line x1="674.50" y1="131.19" x2="670.50" y2="131.19" stroke="#000" stroke-width="0.7"/>
<line x1="397.50" y1="129.05" x2="401.50" y2="129.05" stroke="#000" stroke-width="0.7"/>
<line x1="674.50" y1="129.05" x2="670.50" y2="129.05" stroke="#000" stroke-width="0.7"/>
<line x1="397.50" y1="127.30" x2="401.50" y2="127.30" stroke="#000" stroke-width="0.7"/>
<line x1="674.50" y1="127.30" x2="670.50" y2="127.30" stroke="#000" stroke-width="0.7"/>
<line x1="397.50" y1="125.82" x2="401.50" y2="125.82" stroke="#000" stroke-width="0.7"/>
<line x1="674.50" y1="125.82" x2="670.50" y2="125.82" stroke="#000" stroke-width="0.7"/>
<line x1="397.50" y1="124.54" x2="401.50" y2="124.54" stroke="#000" stroke-width="0.7"/>
<line x1="674.50" y1="124.54" x2="670.50" y2="124.54" stroke="#000" stroke-width="0.7"/>
<line x1="397.50" y1="123.41" x2="401.50" y2="123.41" stroke="#000" stroke-width="0.7"/>
<line x1="674.50" y1="123.41" x2="670.50" y2="123.41" stroke="#000" stroke-width="0.7"/>
<line x1="397.50" y1="122.40" x2="405.50" y2="122.40" stroke="#000" stroke-width="0.7"/>
<line x1="674.50" y1="122.40" x2="666.50" y2="122.40" stroke="#000" stroke-width="0.7"/>
<line x1="397.50" y1="115.75" x2="401.50" y2="115.75" stroke="#000" stroke-width="0.7"/>
<line x1="674.50" y1="115.75" x2="670.50" y2="115.75" stroke="#000" stroke-width="0.7"/>
<line x1="397.50" y1="111.86" x2="401.50" y2="111.86" stroke="#000" stroke-width="0.7"/>
<line x1="674.50" y1="111.86" x2="670.50" y2="111.86" stroke="#000" stroke-width="0.7"/>
<line x1="397.50" y1="109.09" x2="401.50" y2="109.09" stroke="#000" stroke-width="0.7"/>
<line x1="674.50" y1="109.09" x2="670.50" y2="109.09" stroke="#000" stroke-width="0.7"/>
<line x1="397.50" y1="106.95" x2="401.50" y2="106.95" stroke="#000" stroke-width="0.7"/>
<line x1="674.50" y1="106.95" x2="670.50" y2="106.95" stroke="#000" stroke-width="0.7"/>
<line x1="397.50" y1="105.20" x2="401.50" y2="105.20" stroke="#000" stroke-width="0.7"/>
<line x1="674.50" y1="105.20" x2="670.50" y2="105.20" stroke="#000" stroke-width="0.7"/>
<line x1="397.50" y1="103.72" x2="401.50" y2="103.72" stroke="#000" stroke-width="0.7"/>
<line x1="674.50" y1="103.72" x2="670.50" y2="103.72" stroke="#000" stroke-width="0.7"/>
<line x1="397.50" y1="102.44" x2="401.50" y2="102.44" stroke="#000" stroke-width="0.7"/>
<line x1="674.50" y1="102.44" x2="670.50" y2="102.44" stroke="#000" stroke-width="0.7"/>
<line x1="397.50" y1="101.31" x2="401.50" y2="101.31" stroke="#000" stroke-width="0.7"/>
<line x1="674.50" y1="101.31" x2="670.50" y2="101.31" stroke="#000" stroke-width="0.7"/>
<line x1="397.50" y1="100.30" x2="405.50" y2="100.30" stroke="#000" stroke-width="0.7"/>
<line x1="674.50" y1="100.30" x2="666.50" y2="100.30" stroke="#000" stroke-width="0.7"/>
<line x1="397.50" y1="93.65" x2="401.50" y2="93.65" stroke="#000" stroke-width="0.7"/>
<line x1="674.50" y1="93.65" x2="670.50" y2="93.65" stroke="#000" stroke-width="0.7"/>
<line x1="397.50" y1="89.76" x2="401.50" y2="89.76" stroke="#000" stroke-width="0.7"/>
<line x1="674.50" y1="89.76" x2="670.50" y2="89.76" stroke="#000" stroke-width="0.7"/>
<line x1="397.50" y1="86.99" x2="401.50" y2="86.99" stroke="#000" stroke-width="0.7"/>
<line x1="674.50" y1="86.99" x2="670.50" y2="86.99" stroke="#000" stroke-width="0.7"/>
<line x1="397.50" y1="84.85" x2="401.50" y2="84.85" stroke="#000" stroke-width="0.7"/>
<line x1="674.50" y1="84.85" x2="670.50" y2="84.85" stroke="#000" stroke-width="0.7"/>
<line x1="397.50" y1="83.10" x2="401.50" y2="83.10" stroke="#000" stroke-width="0.7"/>
<line x1="674.50" y1="83.10" x2="670.50" y2="83.10" stroke="#000" stroke-width="0.7"/>
<line x1="397.50" y1="81.62" x2="401.50" y2="81.62" stroke="#000" stroke-width="0.7"/>
<line x1="674.50" y1="81.62" x2="670.50" y2="81.62" stroke="#000" stroke-width="0.7"/>
<line x1="397.50" y1="80.34" x2="401.50" y2="80.34" stroke="#000" stroke-width="0.7"/>
<line x1="674.50" y1="80.34" x2="670.50" y2="80.34" stroke="#000" stroke-width="0.7"/>
<line x1="397.50" y1="79.21" x2="401.50" y2="79.21" stroke="#000" stroke-width="0.7"/>
<line x1="674.50" y1="79.21" x2="670.50" y2="79.21" stroke="#000" stroke-width="0.7"/>
<line x1="397.50" y1="78.20" x2="405.50" y2="78.20" stroke="#000" stroke-width="0.7"/>
<line x1="674.50" y1="78.20" x2="666.50" y2="78.20" stroke="#000" stroke-width="0.7"/>
<line x1="397.50" y1="71.55" x2="401.50" y2="71.55" stroke="#000" stroke-width="0.7"/>
<line x1="674.50" y1="71.55" x2="670.50" y2="71.55" stroke="#000" stroke-width="0.7"/>
<line x1="397.50" y1="67.66" x2="401.50" y2="67.66" stroke="#000" stroke-width="0.7"/>
<line x1="674.50" y1="67.66" x2="670.50" y2="67.66" stroke="#000" stroke-width="0.7"/>
<line x1="397.50" y1="64.89" x2="401.50" y2="64.89" stroke="#000" stroke-width="0.7"/>
<line x1="674.50" y1="64.89" x2="670.50" y2="64.89" stroke="#000" stroke-width="0.7"/>
<line x1="397.50" y1="62.75" x2="401.50" y2="62.75" stroke="#000" stroke-width="0.7"/>
<line x1="674.50" y1="62.75" x2="670.50" y2="62.75" stroke="#000" stroke-width="0.7"/>
<line x1="397.50" y1="61.00" x2="401.50" y2="61.00" stroke="#000" stroke-width="0.7"/>
<line x1="674.50" y1="61.00" x2="670.50" y2="61.00" stroke="#000" stroke-width="0.7"/>
<line x1="397.50" y1="59.52" x2="401.50" y2="59.52" stroke="#000" stroke-width="0.7"/>
<line x1="674.50" y1="59.52" x2="670.50" y2="59.52" stroke="#000" stroke-width="0.7"/>
<line x1="397.50" y1="58.24" x2="401.50" y2="58.24" stroke="#000" stroke-width="0.7"/>
<line x1="674.50" y1="58.24" x2="670.50" y2="58.24" stroke="#000" stroke-width="0.7"/>
<line x1="397.50" y1="57.11" x2="401.50" y2="57.11" stroke="#000" stroke-width="0.7"/>
<line x1="674.50" y1="57.11" x2="670.50" y2="57.11" stroke="#000" stroke-width="0.7"/>
<line x1="397.50" y1="56.10" x2="405.50" y2="56.10" stroke="#000" stroke-width="0.7"/>
<line x1="674.50" y1="56.10" x2="666.50" y2="56.10" stroke="#000" stroke-width="0.7"/>
<line x1="397.50" y1="49.45" x2="401.50" y2="49.45" stroke="#000" stroke-width="0.7"/>
<line x1="674.50" y1="49.45" x2="670.50" y2="49.45" stroke="#000" stroke-width="0.7"/>
<line x1="397.50" y1="45.56" x2="401.50" y2="45.56" stroke="#000" stroke-width="0.7"/>
<line x1="674.50" y1="45.56" x2="670.50" y2="45.56" stroke="#000" stroke-width="0.7"/>
<line x1="397.50" y1="42.79" x2="401.50" y2="42.79" stroke="#000" stroke-width="0.7"/>
<line x1="674.50" y1="42.79" x2="670.50" y2="42.79" stroke="#000" stroke-width="0.7"/>
<line x1="397.50" y1="40.65" x2="401.50" y2="40.65" stroke="#000" stroke-width="0.7"/>
<line x1="674.50" y1="40.65" x2="670.50" y2="40.65" stroke="#000" stroke-width="0.7"/>
<line x1="397.50" y1="38.90" x2="401.50" y2="38.90" stroke="#000" stroke-width="0.7"/>
<line x1="674.50" y1="38.90" x2="670.50" y2="38.90" stroke="#000" stroke-width="0.7"/>
<line x1="397.50" y1="37.42" x2="401.50" y2="37.42" stroke="#000" stroke-width="0.7"/>
<line x1="674.50" y1="37.42" x2="670.50" y2="37.42" stroke="#000" stroke-width="0.7"/>
<line x1="397.50" y1="36.14" x2="401.50" y2="36.14" stroke="#000" stroke-width="0.7"/>
<line x1="674.50" y1="36.14" x2="670.50" y2="36.14" stroke="#000" stroke-width="0.7"/>
<line x1="397.50" y1="35.01" x2="401.50" y2="35.01" stroke="#000" stroke-width="0.7"/>
<line x1="674.50" y1="35.01" x2="670.50" y2="35.01" stroke="#000" stroke-width="0.7"/>
<line x1="397.50" y1="34.00" x2="405.50" y2="34.00" stroke="#000" stroke-width="0.7"/>
<line x1="674.50" y1="34.00" x2="666.50" y2="34.00" stroke="#000" stroke-width="0.7"/>
<line x1="397.50" y1="27.35" x2="401.50" y2="27.35" stroke="#000" stroke-width="0.7"/>
<line x1="674.50" y1="27.35" x2="670.50" y2="27.35" stroke="#000" stroke-width="0.7"/>
<line x1="397.50" y1="23.46" x2="401.50" y2="23.46" stroke="#000" stroke-width="0.7"/>
<line x1="674.50" y1="23.46" x2="670.50" y2="23.46" stroke="#000" stroke-width="0.7"/>
<line x1="397.50" y1="20.69" x2="401.50" y2="20.69" stroke="#000" stroke-width="0.7"/>
<line x1="674.50" y1="20.69" x2="670.50" y2="20.69" stroke="#000" stroke-width="0.7"/>
<line x1="397.50" y1="18.55" x2="401.50" y2="18.55" stroke="#000" stroke-width="0.7"/>
<line x1="674.50" y1="18.55" x2="670.50" y2="18.55" stroke="#000" stroke-width="0.7"/>
<line x1="397.50" y1="16.80" x2="401.50" y2="16.80" stroke="#000" stroke-width="0.7"/>
<line x1="674.50" y1="16.80" x2="670.50" y2="16.80" stroke="#000" stroke-width="0.7"/>
<line x1="397.50" y1="317.70" x2="401.50" y2="317.70" stroke="#000" stroke-width="0.7"/>
<line x1="674.50" y1="317.70" x2="670.50" y2="317.70" stroke="#000" stroke-width="0.7"/>
<line x1="397.50" y1="312.70" x2="401.50" y2="312.70" stroke="#000" stroke-width="0.7"/>
<line x1="674.50" y1="312.70" x2="670.50" y2="312.70" stroke="#000" stroke-width="0.7"/>
<line x1="397.50" y1="307.70" x2="405.50" y2="307.70" stroke="#000" stroke-width="0.7"/>
<line x1="674.50" y1="307.70" x2="666.50" y2="307.70" stroke="#000" stroke-width="0.7"/>
<line x1="397.50" y1="302.70" x2="401.50" y2="302.70" stroke="#000" stroke-width="0.7"/>
<line x1="674.50" y1="302.70" x2="670.50" y2="302.70" stroke="#000" stroke-width="0.7"/>
<line x1="397.50" y1="297.70" x2="401.50" y2="297.70" stroke="#000" stroke-width="0.7"/>
<line x1="674.50" y1="297.70" x2="670.50" y2="297.70" stroke="#000" stroke-width="0.7"/>
<line x1="397.50" y1="292.70" x2="401.50" y2="292.70" stroke="#000" stroke-width="0.7"/>
<line x1="674.50" y1="292.70" x2="670.50" y2="292.70" stroke="#000" stroke-width="0.7"/>
<line x1="397.50" y1="287.70" x2="401.50" y2="287.70" stroke="#000" stroke-width="0.7"/>
<line x1="674.50" y1="287.70" x2="670.50" y2="287.70" stroke="#000" stroke-width="0.7"/>
<line x1="397.50" y1="282.70" x2="405.50" y2="282.70" stroke="#000" stroke-width="0.7"/>
<line x1="674.50" y1="282.70" x2="666.50" y2="282.70" stroke="#000" stroke-width="0.7"/>
<line x1="397.50" y1="277.70" x2="401.50" y2="277.70" stroke="#000" stroke-width="0.7"/>
<line x1="674.50" y1="277.70" x2="670.50" y2="277.70" stroke="#000" stroke-width="0.7"/>
<line x1="397.50" y1="272.70" x2="401.50" y2="272.70" stroke="#000" stroke-width="0.7"/>
<line x1="674.50" y1="272.70" x2="670.50" y2="272.70" stroke="#000" stroke-width="0.7"/>
<line x1="397.50" y1="267.70" x2="401.50" y2="267.70" stroke="#000" stroke-width="0.7"/>
<line x1="674.50" y1="267.70" x2="670.50" y2="267.70" stroke="#000" stroke-width="0.7"/>
<line x1="397.50" y1="262.70" x2="401.50" y2="262.70" stroke="#000" stroke-width="0.7"/>
<line x1="674.50" y1="262.70" x2="670.50" y2="262.70" stroke="#000" stroke-width="0.7"/>
<line x1="397.50" y1="257.70" x2="405.50" y2="257.70" stroke="#000" stroke-width="0.7"/>
<line x1="674.50" y1="257.70" x2="666.50" y2="257.70" stroke="#000" stroke-width="0.7"/>
<line x1="397.50" y1="252.70" x2="401.50" y2="252.70" stroke="#000" stroke-width="0.7"/>
<line x1="674.50" y1="252.70" x2="670.50" y2="252.70" stroke="#000" stroke-width="0.7"/>
<line x1="397.50" y1="247.70" x2="401.50" y2="247.70" stroke="#000" stroke-width="0.7"/>
<line x1="674.50" y1="247.70" x2="670.50" y2="247.70" stroke="#000" stroke-width="0.7"/>
<line x1="397.50" y1="242.70" x2="401.50" y2="242.70" stroke="#000" stroke-width="0.7"/>
<line x1="674.50" y1="242.70" x2="670.50" y2="242.70" stroke="#000" stroke-width="0.7"/>
<line x1="397.50" y1="237.70" x2="401.50" y2="237.70" stroke="#000" stroke-width="0.7"/>
<line x1="674.50" y1="237.70" x2="670.50" y2="237.70" stroke="#000" stroke-width="0.7"/>
<line x1="397.50" y1="232.70" x2="405.50" y2="232.70" stroke="#000" stroke-width="0.7"/>
<line x1="674.50" y1="232.70" x2="666.50" y2="232.70" stroke="#000" stroke-width="0.7"/>
<line x1="397.50" y1="227.70" x2="401.50" y2="227.70" stroke="#000" stroke-width="0.7"/>
<line x1="674.50" y1="227.70" x2="670.50" y2="227.70" stroke="#000" stroke-width="0.7"/>
<line x1="397.50" y1="222.70" x2="401.50" y2="222.70" stroke="#000" stroke-width="0.7"/>
<line x1="674.50" y1="222.70" x2="670.50" y2="222.70" stroke="#000" stroke-width="0.7"/>
<line x1="397.50" y1="217.70" x2="401.50" y2="217.70" stroke="#000" stroke-width="0.7"/>
<line x1="674.50" y1="217.70" x2="670.50" y2="217.70" stroke="#000" stroke-width="0.7"/>
<line x1="397.50" y1="212.70" x2="401.50" y2="212.70" stroke="#000" stroke-width="0.7"/>
<line x1="674.50" y1="212.70" x2="670.50" y2="212.70" stroke="#000" stroke-width="0.7"/>
<line x1="397.50" y1="207.70" x2="405.50" y2="207.70" stroke="#000" stroke-width="0.7"/>
<line x1="674.50" y1="207.70" x2="666.50" y2="207.70" stroke="#000" stroke-width="0.7"/>
<line x1="397.50" y1="202.70" x2="401.50" y2="202.70" stroke="#000" stroke-width="0.7"/>
<line x1="674.50" y1="202.70" x2="670.50" y2="202.70" stroke="#000" stroke-width="0.7"/>
<line x1="397.50" y1="197.70" x2="401.50" y2="197.70" stroke="#000" stroke-width="0.7"/>
<line x1="674.50" y1="197.70" x2="670.50" y2="197.70" stroke="#000" stroke-width="0.7"/>
<line x1="397.50" y1="192.70" x2="401.50" y2="192.70" stroke="#000" stroke-width="0.7"/>
<line x1="674.50" y1="192.70" x2="670.50" y2="192.70" stroke="#000" stroke-width="0.7"/>
<line x1="397.50" y1="187.70" x2="401.50" y2="187.70" stroke="#000" stroke-width="0.7"/>
<line x1="674.50" y1="187.70" x2="670.50" y2="187.70" stroke="#000" stroke-width="0.7"/>
<text x="41.50" y="8.6" font-size="10.2" font-family="Liberation Serif" fill="#000" stroke="#000" stroke-width="0.22" textLength="11.0" lengthAdjust="spacingAndGlyphs">pp</text>
<path d="M56.40,5.8 L65.60,5.8" stroke="#000" stroke-width="0.75"/>
<path d="M63.30,3.6 Q64.60,5.2 66.20,5.8 Q64.60,6.4 63.30,8.0" stroke="#000" stroke-width="0.7" fill="none"/>
<text x="69.40" y="8.6" font-size="10.2" font-family="Liberation Serif" fill="#000" stroke="#000" stroke-width="0.22" textLength="68.0" lengthAdjust="spacingAndGlyphs"><tspan font-style="italic">tt̄</tspan> + 0, 1(, 2, 3, 4)</text>
<text x="139.50" y="8.6" font-size="10.2" font-family="Liberation Serif" fill="#000" stroke="#000" stroke-width="0.22" textLength="55.6" lengthAdjust="spacingAndGlyphs">jets at <tspan font-size="7.8">13</tspan> TeV</text>
<text x="397.50" y="8.6" font-size="10.2" font-family="Liberation Serif" fill="#000" stroke="#000" stroke-width="0.22" textLength="11.0" lengthAdjust="spacingAndGlyphs">pp</text>
<path d="M412.40,5.8 L421.60,5.8" stroke="#000" stroke-width="0.75"/>
<path d="M419.30,3.6 Q420.60,5.2 422.20,5.8 Q420.60,6.4 419.30,8.0" stroke="#000" stroke-width="0.7" fill="none"/>
<text x="425.40" y="8.6" font-size="10.2" font-family="Liberation Serif" fill="#000" stroke="#000" stroke-width="0.22" textLength="68.0" lengthAdjust="spacingAndGlyphs"><tspan font-style="italic">tt̄</tspan> + 0, 1(, 2, 3, 4)</text>
<text x="495.50" y="8.6" font-size="10.2" font-family="Liberation Serif" fill="#000" stroke="#000" stroke-width="0.22" textLength="55.6" lengthAdjust="spacingAndGlyphs">jets at <tspan font-size="7.8">13</tspan> TeV</text>
<text transform="translate(36.30,40.40) scale(1,0.86)" font-size="9.2" font-family="Liberation Serif" text-anchor="end" fill="#000" stroke="#000" stroke-width="0.22" textLength="3.8" lengthAdjust="spacingAndGlyphs">1</text>
<text transform="translate(26.90,62.40) scale(1,0.8)" font-size="9.2" font-family="Liberation Serif" text-anchor="end" fill="#000" stroke="#000" stroke-width="0.22" textLength="10.0" lengthAdjust="spacingAndGlyphs">10</text>
<text x="36.30" y="57.70" font-size="7" font-family="Liberation Serif" text-anchor="end" fill="#000" stroke="#000" stroke-width="0.22" textLength="8.4" lengthAdjust="spacingAndGlyphs">−1</text>
<text transform="translate(26.90,84.00) scale(1,0.8)" font-size="9.2" font-family="Liberation Serif" text-anchor="end" fill="#000" stroke="#000" stroke-width="0.22" textLength="10.0" lengthAdjust="spacingAndGlyphs">10</text>
<text x="36.30" y="79.30" font-size="7" font-family="Liberation Serif" text-anchor="end" fill="#000" stroke="#000" stroke-width="0.22" textLength="8.4" lengthAdjust="spacingAndGlyphs">−2</text>
<text transform="translate(26.90,105.60) scale(1,0.8)" font-size="9.2" font-family="Liberation Serif" text-anchor="end" fill="#000" stroke="#000" stroke-width="0.22" textLength="10.0" lengthAdjust="spacingAndGlyphs">10</text>
<text x="36.30" y="100.90" font-size="7" font-family="Liberation Serif" text-anchor="end" fill="#000" stroke="#000" stroke-width="0.22" textLength="8.4" lengthAdjust="spacingAndGlyphs">−3</text>
<text transform="translate(26.90,127.20) scale(1,0.8)" font-size="9.2" font-family="Liberation Serif" text-anchor="end" fill="#000" stroke="#000" stroke-width="0.22" textLength="10.0" lengthAdjust="spacingAndGlyphs">10</text>
<text x="36.30" y="122.50" font-size="7" font-family="Liberation Serif" text-anchor="end" fill="#000" stroke="#000" stroke-width="0.22" textLength="8.4" lengthAdjust="spacingAndGlyphs">−4</text>
<text transform="translate(26.90,148.80) scale(1,0.8)" font-size="9.2" font-family="Liberation Serif" text-anchor="end" fill="#000" stroke="#000" stroke-width="0.22" textLength="10.0" lengthAdjust="spacingAndGlyphs">10</text>
<text x="36.30" y="144.10" font-size="7" font-family="Liberation Serif" text-anchor="end" fill="#000" stroke="#000" stroke-width="0.22" textLength="8.4" lengthAdjust="spacingAndGlyphs">−5</text>
<text transform="translate(26.90,170.40) scale(1,0.8)" font-size="9.2" font-family="Liberation Serif" text-anchor="end" fill="#000" stroke="#000" stroke-width="0.22" textLength="10.0" lengthAdjust="spacingAndGlyphs">10</text>
<text x="36.30" y="165.70" font-size="7" font-family="Liberation Serif" text-anchor="end" fill="#000" stroke="#000" stroke-width="0.22" textLength="8.4" lengthAdjust="spacingAndGlyphs">−6</text>
<text transform="translate(392.20,36.70) scale(1,0.86)" font-size="9.2" font-family="Liberation Serif" text-anchor="end" fill="#000" stroke="#000" stroke-width="0.22" textLength="3.8" lengthAdjust="spacingAndGlyphs">1</text>
<text transform="translate(382.80,59.20) scale(1,0.8)" font-size="9.2" font-family="Liberation Serif" text-anchor="end" fill="#000" stroke="#000" stroke-width="0.22" textLength="10.0" lengthAdjust="spacingAndGlyphs">10</text>
<text x="392.20" y="54.50" font-size="7" font-family="Liberation Serif" text-anchor="end" fill="#000" stroke="#000" stroke-width="0.22" textLength="8.4" lengthAdjust="spacingAndGlyphs">−1</text>
<text transform="translate(382.80,81.30) scale(1,0.8)" font-size="9.2" font-family="Liberation Serif" text-anchor="end" fill="#000" stroke="#000" stroke-width="0.22" textLength="10.0" lengthAdjust="spacingAndGlyphs">10</text>
<text x="392.20" y="76.60" font-size="7" font-family="Liberation Serif" text-anchor="end" fill="#000" stroke="#000" stroke-width="0.22" textLength="8.4" lengthAdjust="spacingAndGlyphs">−2</text>
<text transform="translate(382.80,103.40) scale(1,0.8)" font-size="9.2" font-family="Liberation Serif" text-anchor="end" fill="#000" stroke="#000" stroke-width="0.22" textLength="10.0" lengthAdjust="spacingAndGlyphs">10</text>
<text x="392.20" y="98.70" font-size="7" font-family="Liberation Serif" text-anchor="end" fill="#000" stroke="#000" stroke-width="0.22" textLength="8.4" lengthAdjust="spacingAndGlyphs">−3</text>
<text transform="translate(382.80,125.50) scale(1,0.8)" font-size="9.2" font-family="Liberation Serif" text-anchor="end" fill="#000" stroke="#000" stroke-width="0.22" textLength="10.0" lengthAdjust="spacingAndGlyphs">10</text>
<text x="392.20" y="120.80" font-size="7" font-family="Liberation Serif" text-anchor="end" fill="#000" stroke="#000" stroke-width="0.22" textLength="8.4" lengthAdjust="spacingAndGlyphs">−4</text>
<text transform="translate(382.80,147.60) scale(1,0.8)" font-size="9.2" font-family="Liberation Serif" text-anchor="end" fill="#000" stroke="#000" stroke-width="0.22" textLength="10.0" lengthAdjust="spacingAndGlyphs">10</text>
<text x="392.20" y="142.90" font-size="7" font-family="Liberation Serif" text-anchor="end" fill="#000" stroke="#000" stroke-width="0.22" textLength="8.4" lengthAdjust="spacingAndGlyphs">−5</text>
<text transform="translate(382.80,169.70) scale(1,0.8)" font-size="9.2" font-family="Liberation Serif" text-anchor="end" fill="#000" stroke="#000" stroke-width="0.22" textLength="10.0" lengthAdjust="spacingAndGlyphs">10</text>
<text x="392.20" y="165.00" font-size="7" font-family="Liberation Serif" text-anchor="end" fill="#000" stroke="#000" stroke-width="0.22" textLength="8.4" lengthAdjust="spacingAndGlyphs">−6</text>
<text transform="translate(36.60,185.60) scale(1,0.86)" font-size="9.2" font-family="Liberation Serif" text-anchor="end" fill="#000" stroke="#000" stroke-width="0.22" textLength="12.4" lengthAdjust="spacingAndGlyphs">1.2</text>
<text transform="translate(36.60,210.60) scale(1,0.86)" font-size="9.2" font-family="Liberation Serif" text-anchor="end" fill="#000" stroke="#000" stroke-width="0.22" textLength="12.4" lengthAdjust="spacingAndGlyphs">1.1</text>
<text transform="translate(36.60,235.60) scale(1,0.86)" font-size="9.2" font-family="Liberation Serif" text-anchor="end" fill="#000" stroke="#000" stroke-width="0.22" textLength="12.4" lengthAdjust="spacingAndGlyphs">1.0</text>
<text transform="translate(36.60,260.60) scale(1,0.86)" font-size="9.2" font-family="Liberation Serif" text-anchor="end" fill="#000" stroke="#000" stroke-width="0.22" textLength="12.4" lengthAdjust="spacingAndGlyphs">0.9</text>
<text transform="translate(36.60,285.60) scale(1,0.86)" font-size="9.2" font-family="Liberation Serif" text-anchor="end" fill="#000" stroke="#000" stroke-width="0.22" textLength="12.4" lengthAdjust="spacingAndGlyphs">0.8</text>
<text transform="translate(36.60,310.60) scale(1,0.86)" font-size="9.2" font-family="Liberation Serif" text-anchor="end" fill="#000" stroke="#000" stroke-width="0.22" textLength="12.4" lengthAdjust="spacingAndGlyphs">0.7</text>
<text transform="translate(392.50,185.60) scale(1,0.86)" font-size="9.2" font-family="Liberation Serif" text-anchor="end" fill="#000" stroke="#000" stroke-width="0.22" textLength="12.4" lengthAdjust="spacingAndGlyphs">1.2</text>
<text transform="translate(392.50,210.60) scale(1,0.86)" font-size="9.2" font-family="Liberation Serif" text-anchor="end" fill="#000" stroke="#000" stroke-width="0.22" textLength="12.4" lengthAdjust="spacingAndGlyphs">1.1</text>
<text transform="translate(392.50,235.60) scale(1,0.86)" font-size="9.2" font-family="Liberation Serif" text-anchor="end" fill="#000" stroke="#000" stroke-width="0.22" textLength="12.4" lengthAdjust="spacingAndGlyphs">1.0</text>
<text transform="translate(392.50,260.60) scale(1,0.86)" font-size="9.2" font-family="Liberation Serif" text-anchor="end" fill="#000" stroke="#000" stroke-width="0.22" textLength="12.4" lengthAdjust="spacingAndGlyphs">0.9</text>
<text transform="translate(392.50,285.60) scale(1,0.86)" font-size="9.2" font-family="Liberation Serif" text-anchor="end" fill="#000" stroke="#000" stroke-width="0.22" textLength="12.4" lengthAdjust="spacingAndGlyphs">0.8</text>
<text transform="translate(392.50,310.60) scale(1,0.86)" font-size="9.2" font-family="Liberation Serif" text-anchor="end" fill="#000" stroke="#000" stroke-width="0.22" textLength="12.4" lengthAdjust="spacingAndGlyphs">0.7</text>
<text transform="translate(41.50,331.80) scale(1,0.86)" font-size="9.2" font-family="Liberation Serif" text-anchor="middle" fill="#000" stroke="#000" stroke-width="0.22" textLength="9.5" lengthAdjust="spacingAndGlyphs">50</text>
<text transform="translate(93.52,331.80) scale(1,0.86)" font-size="9.2" font-family="Liberation Serif" text-anchor="middle" fill="#000" stroke="#000" stroke-width="0.22" textLength="14.25" lengthAdjust="spacingAndGlyphs">100</text>
<text transform="translate(175.96,331.80) scale(1,0.86)" font-size="9.2" font-family="Liberation Serif" text-anchor="middle" fill="#000" stroke="#000" stroke-width="0.22" textLength="14.25" lengthAdjust="spacingAndGlyphs">300</text>
<text transform="translate(214.30,331.80) scale(1,0.86)" font-size="9.2" font-family="Liberation Serif" text-anchor="middle" fill="#000" stroke="#000" stroke-width="0.22" textLength="14.25" lengthAdjust="spacingAndGlyphs">500</text>
<text transform="translate(266.32,331.80) scale(1,0.86)" font-size="9.2" font-family="Liberation Serif" text-anchor="middle" fill="#000" stroke="#000" stroke-width="0.22" textLength="19.0" lengthAdjust="spacingAndGlyphs">1000</text>
<text transform="translate(434.40,331.80) scale(1,0.86)" font-size="9.2" font-family="Liberation Serif" text-anchor="middle" fill="#000" stroke="#000" stroke-width="0.22" textLength="14.25" lengthAdjust="spacingAndGlyphs">500</text>
<text transform="translate(506.50,331.80) scale(1,0.86)" font-size="9.2" font-family="Liberation Serif" text-anchor="middle" fill="#000" stroke="#000" stroke-width="0.22" textLength="19.0" lengthAdjust="spacingAndGlyphs">1000</text>
<text transform="translate(673.90,331.80) scale(1,0.86)" font-size="9.2" font-family="Liberation Serif" text-anchor="middle" fill="#000" stroke="#000" stroke-width="0.22" textLength="19.0" lengthAdjust="spacingAndGlyphs">5000</text>
<text x="276.0" y="343.2" font-size="9.8" font-family="Liberation Serif" fill="#000" stroke="#000" stroke-width="0.22" textLength="41.8" lengthAdjust="spacingAndGlyphs"><tspan font-style="italic">p</tspan><tspan font-size="7.6" dy="1.8">T,<tspan font-style="italic">t</tspan></tspan><tspan dy="-1.8"> [GeV]</tspan></text>
<text x="633.0" y="343.4" font-size="9.8" font-family="Liberation Serif" fill="#000" stroke="#000" stroke-width="0.22" textLength="40.4" lengthAdjust="spacingAndGlyphs"><tspan font-style="italic">m</tspan><tspan font-size="7.6" dy="1.8" font-style="italic">tt̄</tspan><tspan dy="-1.8"> [GeV]</tspan></text>
<text transform="translate(9.3,107.4) rotate(-90)" x="0" y="0" font-size="9.8" font-family="Liberation Serif" fill="#000" stroke="#000" stroke-width="0.22" textLength="42.6" lengthAdjust="spacingAndGlyphs">d<tspan font-style="italic">σ</tspan> / d<tspan font-style="italic">p</tspan><tspan font-size="6.8" dy="1.8">T,<tspan font-style="italic">t</tspan></tspan></text>
<text transform="translate(9.3,63.3) rotate(-90)" x="0" y="0" font-size="9.8" font-family="Liberation Serif" fill="#000" stroke="#000" stroke-width="0.22" textLength="46.4" lengthAdjust="spacingAndGlyphs">[pb GeV<tspan font-size="6.8" dy="-3.8">−1</tspan><tspan dy="3.8">]</tspan></text>
<text transform="translate(365.2,105.8) rotate(-90)" x="0" y="0" font-size="9.8" font-family="Liberation Serif" fill="#000" stroke="#000" stroke-width="0.22" textLength="41.6" lengthAdjust="spacingAndGlyphs">d<tspan font-style="italic">σ</tspan> / d<tspan font-style="italic">m</tspan><tspan font-size="6.8" dy="1.8" font-style="italic">tt̄</tspan></text>
<text transform="translate(365.2,62.4) rotate(-90)" x="0" y="0" font-size="9.8" font-family="Liberation Serif" fill="#000" stroke="#000" stroke-width="0.22" textLength="46.4" lengthAdjust="spacingAndGlyphs">[pb GeV<tspan font-size="6.8" dy="-3.8">−1</tspan><tspan dy="3.8">]</tspan></text>
<text transform="translate(12.2,296.8) rotate(-90)" font-size="9.8" font-family="Liberation Serif" fill="#000" stroke="#000" stroke-width="0.22" textLength="90" lengthAdjust="spacingAndGlyphs">1/MEPS@NLO QCD</text>
<text transform="translate(368.2,296.8) rotate(-90)" font-size="9.8" font-family="Liberation Serif" fill="#000" stroke="#000" stroke-width="0.22" textLength="90" lengthAdjust="spacingAndGlyphs">1/MEPS@NLO QCD</text>
<text transform="translate(327.5,103.5) rotate(-90)" font-size="8.8" font-family="Liberation Serif" text-anchor="start" fill="#000" stroke="#000" stroke-width="0.12" textLength="87.5" lengthAdjust="spacingAndGlyphs">S<tspan font-size="6.6">HERPA</tspan>+O<tspan font-size="6.6">PEN</tspan>L<tspan font-size="6.6">OOPS</tspan></text>
<text transform="translate(683.6,103.8) rotate(-90)" font-size="8.8" font-family="Liberation Serif" text-anchor="start" fill="#000" stroke="#000" stroke-width="0.12" textLength="87.5" lengthAdjust="spacingAndGlyphs">S<tspan font-size="6.6">HERPA</tspan>+O<tspan font-size="6.6">PEN</tspan>L<tspan font-size="6.6">OOPS</tspan></text>
<rect x="55.1" y="148.9" width="22.800000000000004" height="7.40" fill="#fdcbb1"/>
<line x1="55.1" y1="140.2" x2="77.9" y2="140.2" stroke="#0000ff" stroke-width="1.2"/>
<line x1="55.1" y1="153.0" x2="77.9" y2="153.0" stroke="#ff0000" stroke-width="1.9"/>
<line x1="55.1" y1="165.9" x2="77.9" y2="165.9" stroke="#ff0000" stroke-width="1.6" stroke-dasharray="5.4,3.2"/>
<text x="83.3" y="145.1" font-size="10.2" font-family="Liberation Serif" fill="#000" stroke="#000" stroke-width="0.22" textLength="128.2" lengthAdjust="spacingAndGlyphs">+<tspan font-size="8.0">0</tspan>,<tspan font-size="8.0">1</tspan> (NLO QCD) + <tspan font-size="8.0">2</tspan>,<tspan font-size="8.0">3</tspan>,<tspan font-size="8.0">4</tspan> (LO)</text>
<text x="83.3" y="157.4" font-size="10.2" font-family="Liberation Serif" fill="#000" stroke="#000" stroke-width="0.22" textLength="161.8" lengthAdjust="spacingAndGlyphs">+<tspan font-size="8.0">0</tspan>,<tspan font-size="8.0">1</tspan> (NLO QCD+EW<tspan font-size="7.6" dy="2.0">virt</tspan><tspan dy="-2.0">) + <tspan font-size="8.0">2</tspan>,<tspan font-size="8.0">3</tspan>,<tspan font-size="8.0">4</tspan> (LO)</tspan></text>
<text x="83.3" y="169.7" font-size="10.2" font-family="Liberation Serif" fill="#000" stroke="#000" stroke-width="0.22" textLength="193.0" lengthAdjust="spacingAndGlyphs">+<tspan font-size="8.0">0</tspan>,<tspan font-size="8.0">1</tspan> (NLO QCD+EW<tspan font-size="7.6" dy="2.0">virt</tspan><tspan dy="-2.0">+LO<tspan font-size="7.6" dy="2.0">sub</tspan><tspan dy="-2.0">) + <tspan font-size="8.0">2</tspan>,<tspan font-size="8.0">3</tspan>,<tspan font-size="8.0">4</tspan> (LO)</tspan></tspan></text>
<rect x="410.9" y="152.9" width="22.700000000000045" height="7.00" fill="#fdcbb1"/>
<line x1="410.9" y1="143.9" x2="433.6" y2="143.9" stroke="#0000ff" stroke-width="2.0"/>
<line x1="410.9" y1="156.3" x2="433.6" y2="156.3" stroke="#ff0000" stroke-width="1.9"/>
<line x1="410.9" y1="168.6" x2="433.6" y2="168.6" stroke="#ff0000" stroke-width="1.6" stroke-dasharray="5.4,3.2"/>
<text x="438.3" y="148.7" font-size="10.2" font-family="Liberation Serif" fill="#000" stroke="#000" stroke-width="0.22" textLength="134.8" lengthAdjust="spacingAndGlyphs"><tspan font-style="italic">tt̄</tspan>+<tspan font-size="8.0">0</tspan>,<tspan font-size="8.0">1</tspan> (NLO QCD) + <tspan font-size="8.0">2</tspan>,<tspan font-size="8.0">3</tspan>,<tspan font-size="8.0">4</tspan> (LO)</text>
<text x="438.3" y="160.9" font-size="10.2" font-family="Liberation Serif" fill="#000" stroke="#000" stroke-width="0.22" textLength="169.3" lengthAdjust="spacingAndGlyphs"><tspan font-style="italic">tt̄</tspan>+<tspan font-size="8.0">0</tspan>,<tspan font-size="8.0">1</tspan> (NLO QCD+EW<tspan font-size="7.6" dy="2.0">virt</tspan><tspan dy="-2.0">) + <tspan font-size="8.0">2</tspan>,<tspan font-size="8.0">3</tspan>,<tspan font-size="8.0">4</tspan> (LO)</tspan></text>
<text x="438.3" y="173.2" font-size="10.2" font-family="Liberation Serif" fill="#000" stroke="#000" stroke-width="0.22" textLength="206.7" lengthAdjust="spacingAndGlyphs"><tspan font-style="italic">tt̄</tspan> + 0, 1(NLO QCD+EW<tspan font-size="7.6" dy="2.0">virt</tspan><tspan dy="-2.0">+LO<tspan font-size="7.6" dy="2.0">sub</tspan><tspan dy="-2.0">) + <tspan font-size="8.0">2</tspan>,<tspan font-size="8.0">3</tspan>,<tspan font-size="8.0">4</tspan> (LO)</tspan></tspan></text>
</svg>
</body></html>
